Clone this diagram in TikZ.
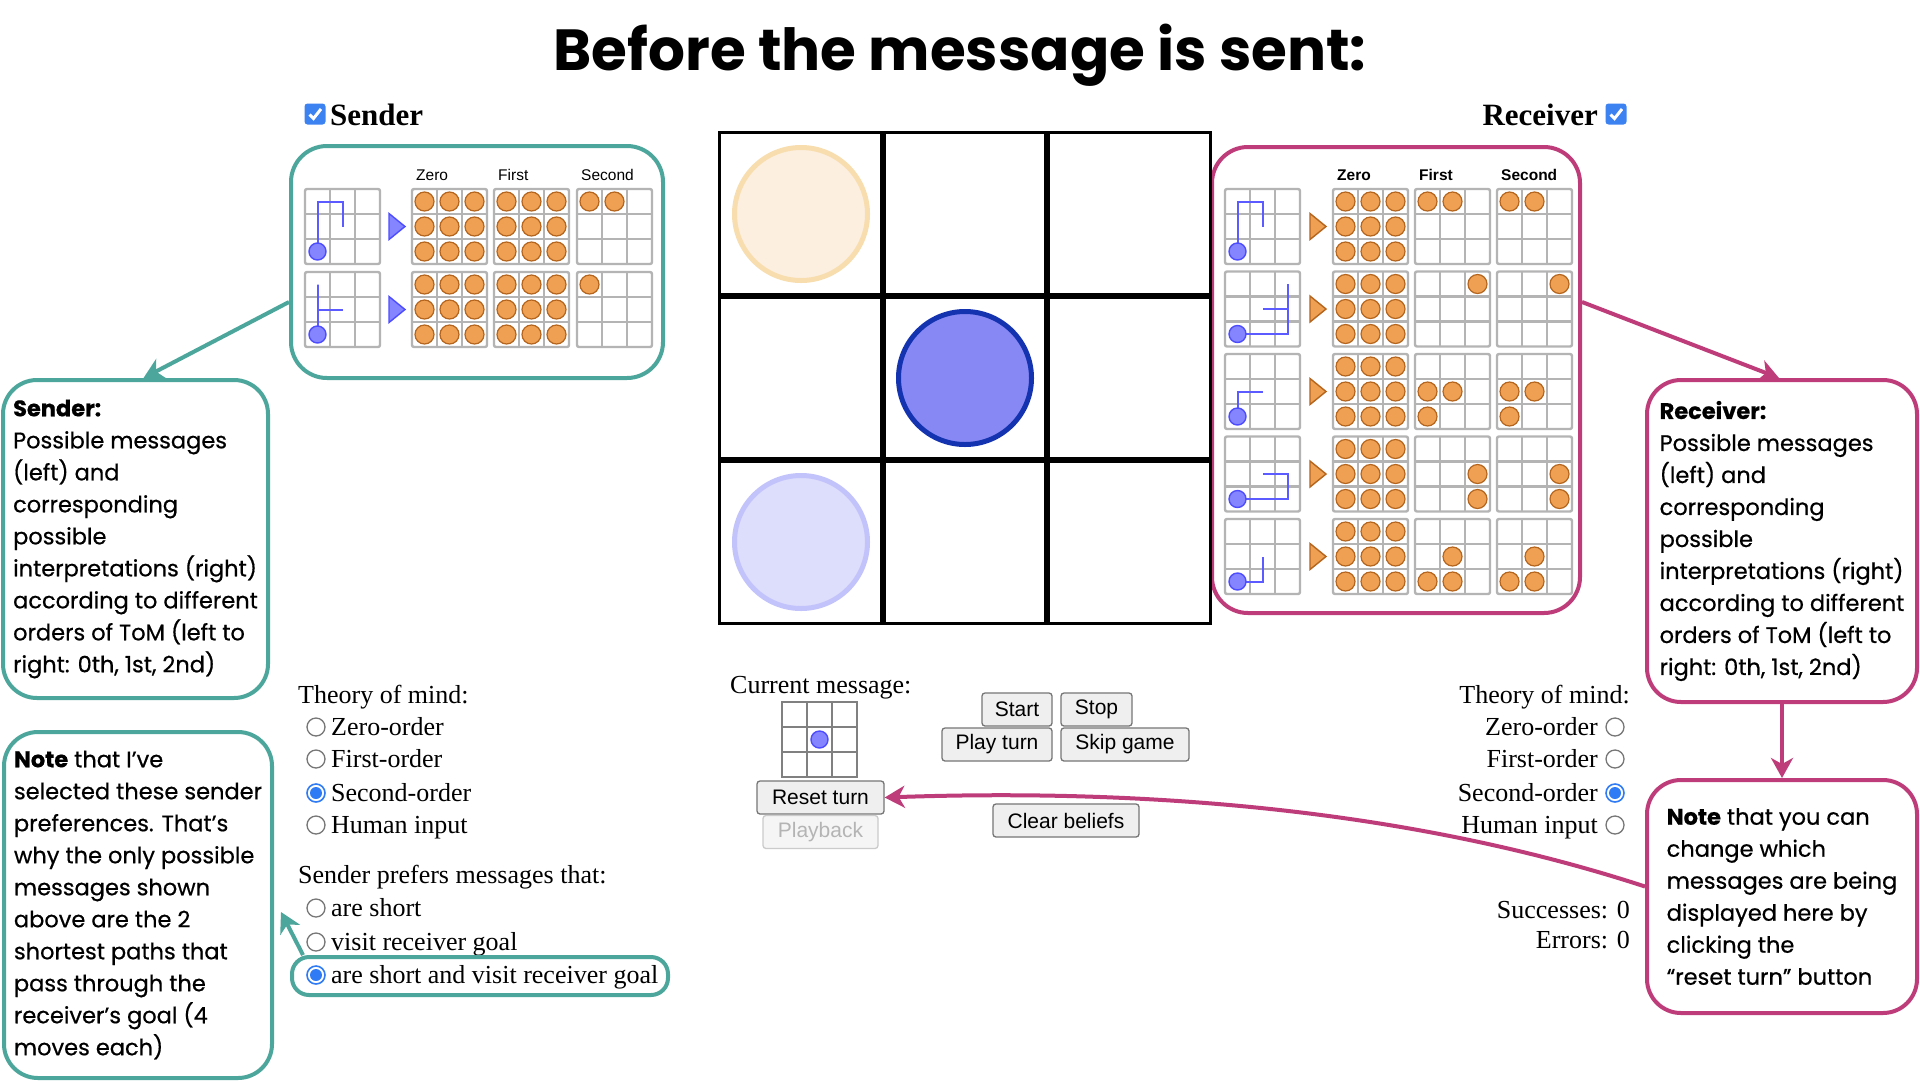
\documentclass[tikz,border=0pt]{standalone}
\usepackage{fontspec}
\setmainfont{Liberation Serif}
\newfontfamily\notefont[FakeBold=0.6]{Poppins}
\newfontfamily\titlefont{Poppins}
\newfontfamily\uifont{Liberation Sans}
\usetikzlibrary{arrows.meta,positioning}

\definecolor{sendcol}{HTML}{4DA69B}
\definecolor{recvcol}{HTML}{BE3C7A}
\definecolor{gridgray}{HTML}{B4B4B4}
\definecolor{beliefin}{HTML}{F0A052}
\definecolor{beliefout}{HTML}{B5651D}
\definecolor{msgblue}{HTML}{5B5BFF}
\definecolor{dotfill}{HTML}{8585FF}
\definecolor{dotedge}{HTML}{4D4DFF}
\definecolor{goalin}{HTML}{FCEFE0}
\definecolor{goalout}{HTML}{F8DDAE}
\definecolor{agentin}{HTML}{8888F5}
\definecolor{agentout}{HTML}{1433B0}
\definecolor{ghostin}{HTML}{DDDDFC}
\definecolor{ghostout}{HTML}{C3C3FB}
\definecolor{tickblue}{HTML}{3C82F0}
\definecolor{radioblue}{HTML}{2F7BF5}
\definecolor{radiogray}{HTML}{767676}
\definecolor{btnfill}{HTML}{EFEFEF}
\definecolor{btnedge}{HTML}{767676}

\tikzset{
  gridline/.style={draw=gridgray, line width=2.4pt},
  msgpath/.style={draw=msgblue, line width=2pt},
  msgdot/.style={fill=dotfill, draw=dotedge, line width=1.4pt},
  belief/.style={fill=beliefin, draw=beliefout, line width=1.2pt},
  sendtri/.style={fill=dotfill, draw=dotedge, line width=1.4pt},
  recvtri/.style={fill=beliefin, draw=beliefout, line width=1.4pt},
  panelbox/.style={draw, line width=4pt, rounded corners=36pt, inner sep=0pt},
  notebox/.style={draw, line width=4pt, rounded corners=34pt, inner sep=0pt, align=left,
    font=\notefont\fontsize{22.5}{32}\selectfont},
  btn/.style={draw=btnedge, fill=btnfill, line width=1.3pt, rounded corners=3pt,
    minimum height=33pt, inner sep=0pt, font=\uifont\fontsize{21}{24}\selectfont},
  btnoff/.style={btn, draw=gridgray!70, fill=btnfill!60, text=gridgray},
  uitext/.style={inner sep=0pt, font=\fontsize{26}{30}\selectfont},
  collabel/.style={inner sep=0pt, anchor=base west, font=\uifont\fontsize{15.5}{18}\selectfont},
  recvlabel/.style={collabel, font=\uifont\bfseries\fontsize{15.5}{18}\selectfont},
  sendarrow/.style={draw=sendcol, line width=4pt, ->},
  recvarrow/.style={draw=recvcol, line width=4pt, ->},
}

% 3x3 grid, #1 = centre of its top-left cell
\newcommand{\cellgrid}[2]{%
  \begin{scope}[shift={#1}, x=25pt, y=-25pt]
    \draw[gridline, rounded corners=2pt] (-0.5,-0.5) rectangle (2.5,2.5);
    \foreach \k in {0.5,1.5} {
      \draw[gridline] (\k,-0.5) -- (\k,2.5);
      \draw[gridline] (-0.5,\k) -- (2.5,\k);
    }
    #2
  \end{scope}}
\newcommand{\beliefs}[2]{\cellgrid{#1}{\foreach \c/\r in {#2} {\draw[belief] (\c,\r) circle[radius=0.38];}}}
\newcommand{\fullbeliefs}[1]{\beliefs{#1}{0/0,1/0,2/0,0/1,1/1,2/1,0/2,1/2,2/2}}
\newcommand{\pathgrid}[2]{\cellgrid{#1}{\draw[msgpath] #2; \draw[msgdot] (0,2) circle[radius=0.34];}}
\newcommand{\playarrow}[3]{\draw[#3] (#1,#2-13) -- (#1+16,#2) -- (#1,#2+13) -- cycle;}
\newcommand{\tickbox}[2]{%
  \fill[tickblue, rounded corners=3pt] (#1-10.5,#2-10.5) rectangle (#1+10.5,#2+10.5);
  \draw[white, line width=3pt] (#1-5.5,#2+0.5) -- (#1-1.5,#2+4.5) -- (#1+6,#2-5);}
\newcommand{\radiobtn}[2]{\draw[draw=radiogray, fill=white, line width=1.3pt] (#1,#2) circle[radius=9];}
\newcommand{\radiosel}[2]{\draw[draw=radioblue, fill=white, line width=1.6pt] (#1,#2) circle[radius=9];
  \fill[radioblue] (#1,#2) circle[radius=6];}

\begin{document}
\begin{tikzpicture}[x=1pt, y=-1pt, >={Stealth[length=20pt,width=22pt,inset=6pt]}]
  \fill[white] (0,0) rectangle (1920,1080);
  \useasboundingbox (0,0) rectangle (1920,1080);

  \node[font=\titlefont\bfseries\fontsize{58}{68}\selectfont, anchor=base, inner sep=0pt] (title) at (960,70) {Before the message is sent:};

  % sender panel
  \tickbox{315}{114}
  \node[inner sep=0pt, anchor=base west, font=\bfseries\fontsize{31}{34}\selectfont] (sendname) at (330,125) {Sender};
  \node[panelbox, draw=sendcol, minimum width=372pt, minimum height=232pt] (sendpanel) at (477,262) {};
  \node[collabel] (szero) at (416,180) {Zero};
  \node[collabel] (sfirst) at (498,180) {First};
  \node[collabel] (ssecond) at (581,180) {Second};
  \pathgrid{(317.5,201.5)}{(0,2) -- (0,0) -- (1,0) -- (1,1)}
  \playarrow{389}{226.5}{sendtri}
  \fullbeliefs{(424.5,201.5)}
  \fullbeliefs{(506.5,201.5)}
  \beliefs{(589.5,201.5)}{0/0,1/0}
  \pathgrid{(317.5,284.5)}{(0,2) -- (0,0) -- (0,1) -- (1,1)}
  \playarrow{389}{309.5}{sendtri}
  \fullbeliefs{(424.5,284.5)}
  \fullbeliefs{(506.5,284.5)}
  \beliefs{(589.5,284.5)}{0/0}

  % receiver panel
  \tickbox{1616}{114}
  \node[inner sep=0pt, anchor=base east, font=\bfseries\fontsize{31}{34}\selectfont] (recvname) at (1598,125) {Receiver};
  \node[panelbox, draw=recvcol, minimum width=368pt, minimum height=466pt] (recvpanel) at (1396,380) {};
  \node[recvlabel] (rzero) at (1337,180) {Zero};
  \node[recvlabel] (rfirst) at (1419,180) {First};
  \node[recvlabel] (rsecond) at (1501,180) {Second};
  \pathgrid{(1237.5,201.5)}{(0,2) -- (0,0) -- (1,0) -- (1,1)}
  \playarrow{1310}{226.5}{recvtri}
  \fullbeliefs{(1345.5,201.5)}
  \beliefs{(1427.5,201.5)}{0/0,1/0}
  \beliefs{(1509.5,201.5)}{0/0,1/0}
  \pathgrid{(1237.5,284)}{(0,2) -- (2,2) -- (2,0) -- (2,1) -- (1,1)}
  \playarrow{1310}{309}{recvtri}
  \fullbeliefs{(1345.5,284)}
  \beliefs{(1427.5,284)}{2/0}
  \beliefs{(1509.5,284)}{2/0}
  \pathgrid{(1237.5,366.5)}{(0,2) -- (0,1) -- (1,1)}
  \playarrow{1310}{391.5}{recvtri}
  \fullbeliefs{(1345.5,366.5)}
  \beliefs{(1427.5,366.5)}{0/1,1/1,0/2}
  \beliefs{(1509.5,366.5)}{0/1,1/1,0/2}
  \pathgrid{(1237.5,449)}{(0,2) -- (2,2) -- (2,1) -- (1,1)}
  \playarrow{1310}{474}{recvtri}
  \fullbeliefs{(1345.5,449)}
  \beliefs{(1427.5,449)}{2/1,2/2}
  \beliefs{(1509.5,449)}{2/1,2/2}
  \pathgrid{(1237.5,531.5)}{(0,2) -- (1,2) -- (1,1)}
  \playarrow{1310}{556.5}{recvtri}
  \fullbeliefs{(1345.5,531.5)}
  \beliefs{(1427.5,531.5)}{1/1,0/2,1/2}
  \beliefs{(1509.5,531.5)}{1/1,0/2,1/2}

  % game board
  \draw[line width=3pt] (719,132) rectangle (1210,623);
  \foreach \v in {883,1047} \draw[line width=6.5pt] (\v,132) -- (\v,623);
  \foreach \h in {296,460} \draw[line width=6.5pt] (719,\h) -- (1210,\h);
  \draw[fill=goalin, draw=goalout, line width=5pt] (801,214) circle[radius=66.5];
  \draw[fill=agentin, draw=agentout, line width=5pt] (965,378) circle[radius=66.5];
  \draw[fill=ghostin, draw=ghostout, line width=5pt] (801,542) circle[radius=66.5];

  % controls
  \node[uitext, anchor=base west] (curmsg) at (730,693) {Current message:};
  \begin{scope}[shift={(794.5,714.5)}, x=25pt, y=-25pt]
    \draw[draw=gray, line width=2.4pt] (-0.5,-0.5) rectangle (2.5,2.5);
    \foreach \k in {0.5,1.5} {
      \draw[draw=gray, line width=2pt] (\k,-0.5) -- (\k,2.5);
      \draw[draw=gray, line width=2pt] (-0.5,\k) -- (2.5,\k);
    }
    \draw[msgdot] (1,1) circle[radius=0.34];
  \end{scope}
  \node[btn, minimum width=70pt] (start) at (1017,709.5) {Start};
  \node[btn, minimum width=71pt] (stop) at (1096.5,709.5) {Stop};
  \node[btn, minimum width=110pt] (play) at (997,744.5) {Play turn};
  \node[btn, minimum width=128pt] (skip) at (1125,744.5) {Skip game};
  \node[btn, minimum width=127pt] (reset) at (820.5,797.5) {Reset turn};
  \node[btnoff, minimum width=115pt] (playback) at (820.5,832) {Playback};
  \node[btn, minimum width=146pt] (clear) at (1066,820.5) {Clear beliefs};

  % sender options
  \node[uitext, anchor=base west] (stom) at (298,703) {Theory of mind:};
  \radiobtn{316}{727}
  \node[uitext, anchor=base west] (s0) at (331,735) {Zero-order};
  \radiobtn{316}{759}
  \node[uitext, anchor=base west] (s1) at (331,767.5) {First-order};
  \radiosel{316}{793}
  \node[uitext, anchor=base west] (s2) at (331,801) {Second-order};
  \radiobtn{316}{825}
  \node[uitext, anchor=base west] (sh) at (331,833) {Human input};
  \node[uitext, anchor=base west] (spref) at (298,883) {Sender prefers messages that:};
  \radiobtn{316}{908}
  \node[uitext, anchor=base west] (p0) at (331,916) {are short};
  \radiobtn{316}{942}
  \node[uitext, anchor=base west] (p1) at (331,950) {visit receiver goal};
  \radiosel{316}{975}
  \node[uitext, anchor=base west] (p2) at (331,983) {are short and visit receiver goal};
  \node[draw=sendcol, line width=4pt, rounded corners=17pt, minimum width=376pt, minimum height=38pt] (prefbox) at (480,976) {};

  % receiver options
  \node[uitext, anchor=base east] (rtom) at (1630,703) {Theory of mind:};
  \radiobtn{1615}{727}
  \node[uitext, anchor=base east] (r0) at (1598,735) {Zero-order};
  \radiobtn{1615}{759}
  \node[uitext, anchor=base east] (r1) at (1598,767.5) {First-order};
  \radiosel{1615}{793}
  \node[uitext, anchor=base east] (r2) at (1598,801) {Second-order};
  \radiobtn{1615}{825}
  \node[uitext, anchor=base east] (rh) at (1598,833) {Human input};
  \node[uitext, anchor=base east] (wins) at (1630,918) {Successes: 0};
  \node[uitext, anchor=base east] (errs) at (1630,948) {Errors: 0};

  % callouts
  \node[notebox, draw=sendcol, minimum width=265pt, minimum height=318pt] (sendbox) at (135.5,539)
    {{\bfseries Sender:}\\Possible messages\\(left) and\\corresponding\\possible\\interpretations (right)\\according to different\\orders of ToM (left to\\right: 0th, 1st, 2nd)};
  \node[notebox, draw=sendcol, minimum width=268pt, minimum height=346pt] (leftnote) at (138,905)
    {{\bfseries Note} that I’ve\\selected these sender\\preferences. That’s\\why the only possible\\messages shown\\above are the 2\\shortest paths that\\pass through the\\receiver’s goal (4\\moves each)};
  \node[notebox, draw=recvcol, minimum width=270pt, minimum height=322pt] (recvbox) at (1782,541)
    {{\bfseries Receiver:}\\Possible messages\\(left) and\\corresponding\\possible\\interpretations (right)\\according to different\\orders of ToM (left to\\right: 0th, 1st, 2nd)};
  \node[notebox, draw=recvcol, minimum width=270pt, minimum height=233pt] (rnote) at (1782,896.5)
    {{\bfseries Note} that you can\\change which\\messages are being\\displayed here by\\clicking the\\“reset turn” button};

  \draw[sendarrow] ([yshift=-40pt]sendpanel.west) -- ([xshift=8pt]sendbox.north);
  \draw[sendarrow] ([xshift=13pt]prefbox.north west) -- ([xshift=7pt,yshift=-7pt]leftnote.east);
  \draw[recvarrow] ([yshift=78pt]recvpanel.east) -- ([xshift=-3pt]recvbox.north);
  \draw[recvarrow] (recvbox.south) -- (rnote.north);
  \draw[recvarrow] ([yshift=10pt]rnote.west) .. controls (1380,800) and (1100,790) .. (reset.east);
\end{tikzpicture}
\end{document}
